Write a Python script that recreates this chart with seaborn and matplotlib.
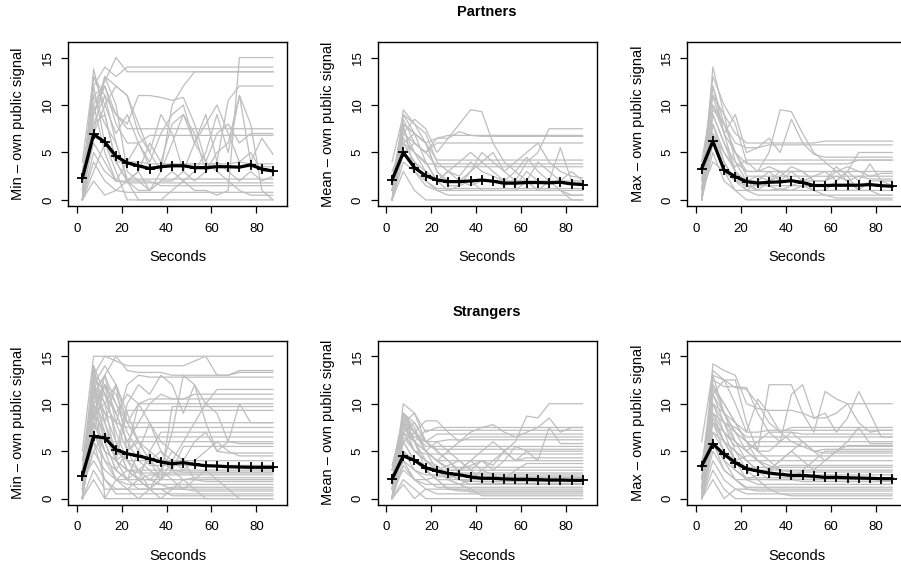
import numpy as np
import pandas as pd
import seaborn as sns
import matplotlib.pyplot as plt

sns.set_style('white')
plt.rcParams['font.family'] = ['Liberation Sans', 'DejaVu Sans']
plt.rcParams['text.color'] = 'black'
plt.rcParams['axes.labelcolor'] = 'black'
plt.rcParams['xtick.color'] = 'black'
plt.rcParams['ytick.color'] = 'black'

# time bins (seconds)
seconds = [2.5, 7.5, 12.5, 17.5, 22.5, 27.5, 32.5, 37.5, 42.5,
           47.5, 52.5, 57.5, 62.5, 67.5, 72.5, 77.5, 82.5, 87.5]

panel_names = ['p_min', 'p_mean', 'p_max', 's_min', 's_mean', 's_max']
ylabels = ['Min \u2013 own public signal', 'Mean \u2013 own public signal',
           'Max \u2013 own public signal'] * 2
group_titles = ['Partners', 'Strangers']

# average lines (black)
avg_p_min = [2.3, 6.9, 6.1, 4.6, 3.9, 3.6, 3.3, 3.5, 3.6, 3.6, 3.4, 3.4, 3.5, 3.5, 3.45, 3.7, 3.25, 3.05]
avg_p_mean = [2.1, 5.0, 3.4, 2.55, 2.1, 1.93, 1.93, 2.0, 2.1, 1.97, 1.77, 1.77, 1.83, 1.83, 1.8, 1.86, 1.69, 1.62]
avg_p_max = [3.3, 6.2, 3.15, 2.45, 1.93, 1.77, 1.86, 1.9, 2.03, 1.83, 1.52, 1.52, 1.55, 1.55, 1.55, 1.62, 1.5, 1.44]
avg_s_min = [2.4, 6.55, 6.4, 5.15, 4.73, 4.5, 4.2, 3.86, 3.68, 3.79, 3.6, 3.47, 3.43, 3.36, 3.33, 3.3, 3.3, 3.3]
avg_s_mean = [2.07, 4.5, 4.03, 3.26, 2.91, 2.66, 2.52, 2.28, 2.14, 2.14, 2.07, 2.03, 2.03, 2.0, 1.96, 1.96, 1.93, 1.93]
avg_s_max = [3.43, 5.78, 4.66, 3.79, 3.15, 2.91, 2.7, 2.56, 2.45, 2.45, 2.35, 2.24, 2.24, 2.2, 2.17, 2.14, 2.1, 2.1]

# individual lines (grey)
ind_p_min = [
    [0, 13.8, 9, 4, 2, 2, 2, 1.5, 1.5, 1.5, 1.5, 1.5, 1.5, 1.5, 1.5, 1.5, 1.5, 1.5],
    [2, 12, 14, 13, 14, 14, 14, 14, 14, 14, 14, 14, 14, 14, 14, 14, 14, 14],
    [0, 10, 12.5, 15, 13.5, 13.5, 13.5, 13.5, 13.5, 13.5, 13.5, 13.5, 13.5, 13.5, 13.5, 13.5, 13.5, 13.5],
    [3, 11, 12, 9, 8, 11, 11, 10.8, 10.5, 10.8, 8, 4, 3, 2, 1, 0.5, 0.5, 0.5],
    [0, 9, 13, 10, 3, 2, 1, 3, 10, 12, 13.5, 13.5, 13.5, 13.5, 13.5, 13.5, 13.5, 13.5],
    [1, 8, 11, 6, 2, 1, 1, 2, 3, 2, 1, 1, 0.5, 1, 15, 15, 15, 15],
    [0, 12, 6, 4, 2, 0, 0, 0, 0, 0, 0, 0, 0, 0, 0, 0, 0, 0],
    [4, 13, 11, 9, 7.5, 7.5, 7.5, 7.5, 7.5, 7.5, 7.5, 7.5, 7.5, 7.5, 7.5, 7.5, 7.5, 7.5],
    [0, 7, 10, 12, 11, 7, 5, 9, 7, 3, 6, 8, 10, 7, 4, 5, 3, 3],
    [2, 10, 5, 2, 2, 3, 6, 4, 8, 9, 7, 3, 5, 6, 11, 4, 6.5, 4.8],
    [0, 5, 3, 2, 4, 6, 4, 7, 9, 10, 6, 9, 4, 10.5, 12, 12, 12, 12],
    [0, 9, 12, 8, 6, 6, 6.8, 6.8, 6.8, 6.8, 6.8, 6.8, 6.8, 6.8, 6.8, 6.8, 6.8, 6.8],
    [1, 6, 4, 2, 1.8, 1.8, 1.8, 1.8, 1.8, 1.8, 1.8, 1.8, 1.8, 1.8, 1.8, 1.8, 1.8, 1.8],
    [0, 4, 2, 1, 2, 3, 1, 2, 2, 3, 2, 3, 4, 3, 2, 3, 2, 2.5],
    [3, 8, 9, 4, 4, 4, 3.8, 3.8, 3.8, 3.8, 3.8, 3.8, 3.8, 3.8, 4, 3.8, 3.8, 3.8],
    [0, 3, 6, 3, 0, 0, 0, 0, 1, 2, 3, 5, 9, 5, 11, 8, 1, 0],
    [2, 11, 8, 6, 2.2, 2.2, 2.2, 2.2, 2.2, 2.2, 2.2, 2.2, 2.2, 2.2, 2.2, 2.2, 2.2, 2.2],
    [0, 2, 0.5, 1, 0.8, 0.8, 0.8, 0.8, 0.8, 0.8, 0.8, 0.8, 0.8, 0.8, 0.8, 0.8, 0.8, 0.8],
    [1, 13, 10, 7, 9, 6, 3.5, 3.5, 3.5, 3.5, 3.5, 3.5, 3.5, 3.5, 3.5, 3.5, 3.5, 3.5],
    [0, 7, 13, 12, 11, 8, 5, 3, 6, 9, 6, 4, 7, 8, 6, 7, 7, 7],
]
ind_p_mean = [
    [0, 9.5, 8, 7, 4, 3, 2, 2, 2, 2, 2, 2, 2, 2, 2, 2, 2, 2],
    [2, 8.5, 6, 5, 6.5, 6.8, 6.8, 6.8, 6.8, 6.8, 6.8, 6.8, 6.8, 6.8, 6.8, 6.8, 6.8, 6.8],
    [1, 7, 8.5, 7.5, 5, 6.5, 8, 9.5, 9.3, 6, 4, 3, 2, 1, 2, 1, 0.5, 0.5],
    [0, 6, 7, 6, 3, 2, 2, 1.5, 2, 2, 1.5, 2, 4, 5, 7.5, 7.5, 7.5, 7.5],
    [4, 9, 7, 4, 2, 1, 1, 1, 1, 1, 1, 1, 1, 1, 1, 1, 1, 1],
    [0, 5, 4, 2, 1, 0.5, 0.5, 0.5, 0.5, 0.5, 0.5, 0.5, 0.5, 0.5, 0.5, 0.5, 0.5, 0.5],
    [1, 8, 7, 6, 6.5, 6.5, 7.2, 6.8, 6.7, 6.7, 6.7, 6.7, 6.7, 6.7, 6.7, 6.7, 6.7, 6.7],
    [0, 7.5, 5, 3, 2, 3, 4, 5, 4, 3, 2, 3, 4.5, 3, 2, 5.5, 2, 1.5],
    [3, 6, 4, 3, 2, 2, 2, 3, 4, 5, 3, 2, 2, 4, 3, 2, 3, 2],
    [0, 4, 3, 1.5, 1, 1, 1.5, 2, 1, 1, 1, 1, 2, 1, 1, 1, 0, 0],
    [2, 8, 7, 6, 4.2, 4.2, 4.2, 4.2, 4.2, 4.2, 4.2, 4.2, 4.2, 4.2, 4.2, 4.2, 4.2, 4.2],
    [0, 6.5, 5, 3.8, 3.8, 3.8, 3.8, 3.8, 3.8, 3.8, 3.8, 3.8, 3.8, 3.8, 3.8, 3.8, 3.8, 3.8],
    [1, 9, 8, 6, 3, 1.5, 1.5, 3, 5, 4, 3, 4, 5, 6, 4, 3, 2.5, 2.3],
    [0, 3, 1, 0, 0, 0, 0, 0, 0, 0, 0, 0, 0, 0, 0, 0, 0, 0],
    [0, 7, 6, 5, 3.5, 3.5, 3.5, 3.5, 3.5, 3.5, 3.5, 3.5, 3.5, 3.5, 3.5, 3.5, 3.5, 3.5],
    [2, 5, 6, 5, 6, 6, 6, 6, 6, 6, 6, 6, 6, 6, 6, 6, 6, 6],
    [0, 8, 3, 2, 1.2, 1.2, 1.2, 1.2, 1.2, 1.2, 1.2, 1.2, 1.2, 1.2, 1.2, 1.2, 1.2, 1.2],
    [1, 6, 5, 4, 2, 3, 2.5, 4, 3, 2.5, 2, 1.5, 3, 2, 1.8, 1.8, 1.8, 1.8],
]
ind_p_max = [
    [0, 14, 9, 7, 6, 6, 6, 6, 6, 6, 6, 6.2, 6.2, 6.2, 6.2, 6.2, 6.2, 6.2],
    [1, 12, 8, 5, 3, 3, 5, 9.5, 9.3, 7, 5, 4, 3, 2, 1, 1, 0.5, 0.5],
    [0, 10, 7, 9, 5, 5.5, 6.5, 5, 8.5, 6, 4.8, 4.5, 4.5, 4.5, 4.5, 4.5, 4.5, 4.5],
    [4, 11, 9, 4, 2, 1, 1, 1, 1, 1, 1, 1, 1, 1, 1, 1, 1, 1],
    [0, 9, 6, 3, 2, 2, 1.5, 1, 1.5, 2, 2.5, 3, 2, 3, 5, 5, 5, 5],
    [2, 13, 10, 8, 4, 3, 3.5, 3, 2, 2, 2, 2, 3, 3.5, 3, 2.5, 2.8, 2.8],
    [0, 8, 5, 3, 1, 0.5, 0.5, 0.5, 0.5, 0.5, 0.5, 0.5, 0.5, 0.5, 0.5, 0.5, 0.5, 0.5],
    [3, 7, 4, 2, 1.5, 1.5, 1.5, 1.5, 1.5, 1.5, 1.5, 1.5, 1.5, 1.5, 1.5, 1.5, 1.5, 1.5],
    [0, 6, 3, 1, 0, 0, 0, 0, 0, 0, 0, 0, 0, 0, 0, 0, 0, 0],
    [1, 10, 8, 6, 5.5, 5.5, 5.8, 5.8, 5.8, 5.8, 5.8, 5.8, 5.8, 5.8, 5.8, 5.8, 5.8, 5.8],
    [0, 5, 2, 1, 1, 2, 3, 2, 3, 2, 1, 1, 2, 3, 2, 3.8, 2, 1.5],
    [2, 9, 6, 4, 3, 3, 3, 3, 3, 3, 3, 3, 3, 3, 3, 3, 3, 3],
    [0, 12, 7, 5, 3.8, 3.8, 3.8, 3.8, 3.8, 3.8, 3.8, 3.8, 3.8, 3.8, 4.2, 4.2, 4.2, 4.2],
    [1, 4, 3, 2, 1, 1, 1, 1.2, 1, 1.5, 1, 0.5, 0.2, 0.2, 0.2, 0.2, 0.2, 0.2],
    [0, 8, 4, 2, 2, 2.5, 2, 2.5, 3.5, 3, 2, 2, 2.5, 2, 2.5, 2.2, 2.2, 2.2],
    [3, 11, 7, 3, 1.5, 1, 2, 3, 3, 3, 2, 2, 3.5, 2.5, 1, 2, 2, 2],
    [0, 7, 5, 3.5, 4.2, 4.2, 4.2, 4.2, 4.2, 4.2, 4.2, 4.2, 4.2, 4.2, 4.2, 4.2, 4.2, 4.2],
    [1, 9.5, 8, 5, 2.5, 2.5, 2.5, 2.5, 2.5, 2.5, 2.5, 2.5, 2.5, 2.5, 2.5, 2.5, 2.5, 2.5],
]
ind_s_min = [
    [5, 15, 15, 15, 15, 15, 15, 15, 15, 15, 15, 15, 15, 15, 15, 15, 15, 15],
    [0, 13, 15, 14.5, 14, 14, 14, 14, 14, 14, 14.5, 15, 13, 13, 13.5, 13.5, 13.5, 13.5],
    [2, 11, 13, 15, 13.5, 13.3, 13.3, 13.3, 13, 13, 13, 13, 13, 13, 13.3, 13.3, 13.3, 13.3],
    [0, 12, 10, 8, 12, 13, 12.8, 12.8, 12.8, 12.8, 12.8, 12.8, 12.8, 12.8, 12.8, 12.8, 12.8, 12.8],
    [3, 14, 8, 5, 10, 12, 11, 13, 12, 9, 12, 10, 11.5, 11.5, 11.5, 11.5, 11.5, 11.5],
    [0, 10, 12, 9, 6, 8, 10, 11, 10.5, 10.5, 11, 11, 11, 11, 11, 11, 11, 11],
    [1, 12, 6, 3, 5, 10, 10.5, 10.5, 10.5, 10.5, 10.5, 10.5, 10.5, 10.5, 10.5, 10.5, 10.5, 10.5],
    [0, 8, 13, 10, 8, 10, 10, 10, 10, 10, 10, 10, 10, 10, 10, 10, 10, 10],
    [2, 13, 11, 9, 6, 4, 3, 2, 9.7, 9.7, 9.7, 9.7, 9.7, 9.7, 9.7, 9.7, 9.7, 9.7],
    [0, 9, 5, 4, 9.3, 9.3, 9.3, 9.3, 9.3, 9.3, 9.3, 9.3, 9.3, 9.3, 9.3, 9.3, 9.3, 9.3],
    [4, 12, 14, 12, 8, 6, 4, 3, 7, 13, 12, 8, 5, 6, 10, 8, 8, 8],
    [0, 11, 9, 8, 7.5, 7.5, 7.5, 7.5, 7.5, 7.5, 7.5, 7.5, 7.5, 7.5, 7.5, 7.5, 7.5, 7.5],
    [1, 7, 12, 6, 3, 2, 5, 7, 7, 7, 7, 7, 7, 7, 7, 7, 7, 7],
    [0, 10, 8, 12, 5, 6.5, 6.5, 6.5, 6.5, 6.5, 6.5, 6.5, 6.5, 6.5, 6.5, 6.5, 6.5, 6.5],
    [3, 8, 6, 6, 6, 6, 6, 6, 6, 6, 6, 6, 6, 6, 6, 6, 6, 6],
    [0, 13, 10, 4, 2, 5, 8, 5, 3, 5.5, 5.5, 5.5, 5.5, 5.5, 5.5, 5.5, 5.5, 5.5],
    [2, 6, 4, 3, 2, 3, 4, 5, 4, 3, 4, 5, 6, 5, 4.5, 4.5, 4.5, 4.5],
    [0, 9, 7, 5, 4, 4, 4, 4, 4, 4, 4, 4, 4, 4, 4, 4, 4, 4],
    [1, 5, 3, 2, 3, 3, 3, 3, 3, 3, 3, 3, 3, 3, 3, 3, 3, 3],
    [0, 14, 0, 2, 2, 2, 2.5, 2.5, 2.5, 2.5, 2.5, 2.5, 2.5, 2.5, 2.5, 2.5, 2.5, 2.5],
    [2, 4, 2, 1, 1, 2, 2, 2, 2, 2, 2, 2, 2, 2, 2, 2, 2, 2],
    [0, 8, 5, 2, 1.5, 1.5, 1.5, 1.5, 1.5, 1.5, 1.5, 1.5, 1.5, 1.5, 1.5, 1.5, 1.5, 1.5],
    [0, 3, 1, 1, 1, 1, 1, 1, 1, 1, 1, 1, 1, 1, 1, 1, 1, 1],
    [1, 6, 2, 0.5, 0.5, 0.5, 0.5, 0.5, 0.5, 0.5, 0.5, 0.5, 0.5, 0.5, 0.5, 0.5, 0.5, 0.5],
    [0, 2, 0, 0, 0, 0, 0, 0, 0, 0, 0, 0, 0, 0, 0, 0, 0, 0],
    [0, 12, 9, 6, 3, 2, 2, 3, 2, 1, 2, 3, 2, 1, 0, 0, 0, 0],
    [3, 11, 7, 5, 4, 3, 2, 1.5, 1, 1, 0.8, 0.8, 0.8, 0.8, 0.8, 0.8, 0.8, 0.8],
    [0, 10, 11, 7, 4, 2, 1, 1, 1.2, 1.2, 1.2, 1.2, 1.2, 1.2, 1.2, 1.2, 1.2, 1.2],
    [1, 9, 12, 10, 7, 5, 3.5, 3.5, 3.5, 3.5, 3.5, 3.5, 3.5, 3.5, 3.5, 3.5, 3.5, 3.5],
    [0, 7, 5, 4, 5, 6, 5, 4, 3, 2, 2.2, 2.2, 2.2, 2.2, 2.2, 2.2, 2.2, 2.2],
    [0, 11, 13, 8, 5, 3, 1, 0, 1, 2, 1, 0, 0, 0, 0, 0, 0, 0],
    [2, 9, 10, 12, 9, 6, 4, 2, 3, 2.8, 2.8, 2.8, 2.8, 2.8, 2.8, 2.8, 2.8, 2.8],
    [0, 13, 12, 11, 8, 8, 8, 8, 8, 8, 8, 8, 8, 8, 8, 8, 8, 8],
    [1, 7, 4, 2, 1, 0, 1, 3, 5, 4, 2, 1.8, 1.8, 1.8, 1.8, 1.8, 1.8, 1.8],
    [0, 10, 6, 3, 2, 1, 1, 2, 4, 6, 8, 10, 9, 6, 5.8, 5.8, 5.8, 5.8],
    [3, 12, 8, 4, 3, 2, 1, 1, 0.3, 0.3, 0.3, 0.3, 0.3, 0.3, 0.3, 0.3, 0.3, 0.3],
    [0, 14, 11, 9, 11, 10, 8, 6, 5, 4, 6, 7, 5, 4.8, 4.8, 4.8, 4.8, 4.8],
    [1, 5, 7, 4, 3, 2.7, 2.7, 2.7, 2.7, 2.7, 2.7, 2.7, 2.7, 2.7, 2.7, 2.7, 2.7, 2.7],
]
ind_s_mean = [
    [0, 10, 9, 6, 5, 4, 3, 3.5, 4, 3.5, 5, 6, 8.7, 8.5, 10, 10, 10, 10],
    [2, 9, 7, 8.2, 8.2, 7, 6, 7, 7.5, 7.8, 7, 6.5, 7, 7.5, 8.5, 7, 7.5, 7.5],
    [1, 8, 9, 7, 7.5, 7.5, 7.5, 7.5, 7.5, 7.5, 7.5, 7.5, 7.5, 7.5, 7.5, 7.5, 7.5, 7.5],
    [0, 7.5, 6, 7.2, 7.2, 7.2, 7.2, 7.2, 7.2, 7.2, 7.2, 7.2, 7.2, 7.2, 7.2, 7.2, 7.2, 7.2],
    [3, 9, 8, 6, 6.8, 6.8, 6.8, 6.8, 6.8, 6.8, 6.8, 6.8, 6.8, 6.8, 6.8, 6.8, 6.8, 6.8],
    [0, 8.5, 7, 5, 4, 5, 6, 6.5, 6.5, 6.5, 6.5, 6.5, 6.5, 6.5, 6.5, 6.5, 6.5, 6.5],
    [1, 7, 5, 4, 3, 3.5, 4, 3, 4, 3, 4, 5.5, 5, 4, 7.5, 5.8, 5.8, 5.8],
    [2, 6, 7, 5.5, 5.5, 5.5, 5.5, 5.5, 5.5, 5.5, 5.5, 5.5, 5.5, 5.5, 5.5, 5.5, 5.5, 5.5],
    [0, 9, 6, 4, 3, 2, 3, 4, 3, 4, 5, 4, 5, 5, 5, 5, 5, 5],
    [3, 8, 5, 4.7, 4.7, 4.7, 4.7, 4.7, 4.7, 4.7, 4.7, 4.7, 4.7, 4.7, 4.7, 4.7, 4.7, 4.7],
    [0, 6, 4, 3, 2, 2, 1.5, 2, 3, 2.5, 2, 3, 3.7, 3.7, 3.7, 3.7, 3.7, 3.7],
    [1, 7, 6, 5, 4, 3.3, 3.3, 3.3, 3.3, 3.3, 3.3, 3.3, 3.3, 3.3, 3.3, 3.3, 3.3, 3.3],
    [0, 5, 4, 3, 3, 3, 3, 3, 3, 3, 3, 3, 3, 3, 3, 3, 3, 3],
    [2, 4, 3, 2.5, 2.5, 2.5, 2.5, 2.5, 2.5, 2.5, 2.5, 2.5, 2.5, 2.5, 2.5, 2.5, 2.5, 2.5],
    [0, 6.5, 5, 4, 3, 2, 2, 2, 2, 2, 2, 2, 2, 2, 2, 2, 2, 2],
    [1, 3, 2, 1.5, 1.5, 1.5, 1.5, 1.5, 1.5, 1.5, 1.5, 1.5, 1.5, 1.5, 1.5, 1.5, 1.5, 1.5],
    [0, 1.5, 0, 1, 1, 1, 1, 1, 1, 1, 1, 1, 1, 1, 1, 1, 1, 1],
    [0, 4, 2, 1, 0.5, 0.5, 0.5, 0.5, 0.5, 0.5, 0.5, 0.5, 0.5, 0.5, 0.5, 0.5, 0.5, 0.5],
    [0, 2, 1, 0, 0, 0, 0, 0, 0, 0, 0, 0, 0, 0, 0, 0, 0, 0],
    [3.5, 8, 6, 4, 3.5, 2.5, 2, 1.8, 1.8, 1.8, 1.8, 1.8, 1.8, 1.8, 1.8, 1.8, 1.8, 1.8],
    [0, 7, 8, 6, 5, 4, 2.7, 2.7, 2.7, 2.7, 2.7, 2.7, 2.7, 2.7, 2.7, 2.7, 2.7, 2.7],
    [1, 5, 3, 2, 1.2, 1.2, 1.2, 1.2, 1.2, 1.2, 1.2, 1.2, 1.2, 1.2, 1.2, 1.2, 1.2, 1.2],
    [0, 7.8, 6, 5, 6, 5, 4, 3, 2, 2.2, 2.2, 2.2, 2.2, 2.2, 2.2, 2.2, 2.2, 2.2],
    [2, 6, 4, 3, 2, 1, 0.8, 0.8, 0.8, 0.8, 0.8, 0.8, 0.8, 0.8, 0.8, 0.8, 0.8, 0.8],
    [0, 8, 7, 6, 5.2, 5.2, 5.2, 5.2, 5.2, 5.2, 5.2, 5.2, 5.2, 5.2, 5.2, 5.2, 5.2, 5.2],
    [1, 9, 7, 5, 4, 4, 4, 4, 4, 4, 4, 4, 4, 4, 4, 4, 4, 4],
    [0, 9, 7.5, 5, 3, 2, 1.5, 1, 0.3, 0.3, 0.3, 0.3, 0.3, 0.3, 0.3, 0.3, 0.3, 0.3],
    [2, 7, 5, 4, 3, 2.5, 2, 1.5, 1.6, 1.6, 1.6, 1.6, 1.6, 1.6, 1.6, 1.6, 1.6, 1.6],
    [0, 6, 7, 5, 4, 3, 3, 4, 5, 6, 5, 4, 4.3, 4.3, 4.3, 4.3, 4.3, 4.3],
    [1, 8.5, 6, 3, 2, 1, 1, 0.7, 0.7, 0.7, 0.7, 0.7, 0.7, 0.7, 0.7, 0.7, 0.7, 0.7],
    [0, 3.5, 2, 2, 2.3, 2.3, 2.3, 2.3, 2.3, 2.3, 2.3, 2.3, 2.3, 2.3, 2.3, 2.3, 2.3, 2.3],
    [3, 7.5, 6.5, 6, 6, 6.2, 6.2, 6.2, 6.2, 6.2, 6.2, 6.2, 6.2, 6.2, 6.2, 6.2, 6.2, 6.2],
]
ind_s_max = [
    [0, 14.2, 13.5, 13, 10, 9.5, 9.3, 9.3, 9.3, 9, 8.5, 8.5, 9, 10, 10, 10, 10, 10],
    [6, 13.5, 12.5, 12.5, 8, 5, 12, 12, 12, 9, 7, 11.3, 10.5, 10, 8, 7, 7.2, 7.2],
    [0, 12.5, 11.8, 11.8, 11.7, 9, 7, 6, 11, 12, 8.5, 9, 7, 8.5, 11.3, 9, 6.5, 6.5],
    [1, 11, 12.5, 10, 7, 10.5, 9, 7, 7.5, 7.5, 7.5, 7.5, 7.5, 7.5, 7.5, 7.5, 7.5, 7.5],
    [0, 10, 9, 8, 7, 7, 7.2, 7.2, 7.2, 7.2, 7.2, 7.2, 7.2, 7.2, 7.2, 7.2, 7.2, 7.2],
    [3, 12, 9, 7, 5, 6, 7, 7, 7, 6.8, 6.8, 6.8, 6.8, 6.8, 6.8, 6.8, 6.8, 6.8],
    [0, 9, 8, 6, 5, 4, 3, 4, 5, 6, 5, 4, 5, 6, 7.5, 5.8, 5.8, 5.8],
    [2, 11, 8, 7, 6, 6, 6, 6, 6, 6, 6, 6, 6, 6, 6, 6, 6, 6],
    [0, 8, 7, 5.5, 5.5, 5.5, 5.5, 5.5, 5.5, 5.5, 5.5, 5.5, 5.5, 5.5, 5.5, 5.5, 5.5, 5.5],
    [1, 13, 9, 6, 4, 3, 2, 2, 2, 3, 4, 5, 5, 5, 5, 5, 5, 5],
    [0, 7, 5, 4, 4.5, 4.5, 4.5, 4.5, 4.5, 4.5, 4.5, 4.5, 4.5, 4.5, 4.5, 4.5, 4.5, 4.5],
    [2, 9, 6, 4, 3, 3, 3, 3, 3, 3, 3, 3, 3, 3, 3, 3, 3, 3],
    [0, 6, 4, 3, 2, 2.5, 3, 3.5, 3.5, 3.5, 3.5, 3.5, 3.5, 3.5, 3.5, 3.5, 3.5, 3.5],
    [0, 5, 3, 2, 2, 2, 2, 2, 2, 2, 2, 2, 2, 2, 2, 2, 2, 2],
    [1, 10, 7, 4, 2, 1.5, 1.5, 1.5, 1.5, 1.5, 1.5, 1.5, 1.5, 1.5, 1.5, 1.5, 1.5, 1.5],
    [0, 2, 0, 1, 1, 1, 1, 1, 1, 1, 1, 1, 1, 1, 1, 1, 1, 1],
    [0, 4, 2, 1, 0.5, 0.5, 0.5, 0.5, 0.5, 0.5, 0.5, 0.5, 0.5, 0.5, 0.5, 0.5, 0.5, 0.5],
    [0, 3, 1, 0, 0, 0, 0, 0, 0, 0, 0, 0, 0, 0, 0, 0, 0, 0],
    [4, 8, 6, 5, 4, 4, 4, 4, 4, 4, 4, 4, 4, 4, 4, 4, 4, 4],
    [0, 7, 6, 5, 4, 3, 2.5, 2.5, 2.5, 2.5, 2.5, 2.5, 2.5, 2.5, 2.5, 2.5, 2.5, 2.5],
    [2, 12, 10, 8, 6, 5, 4, 3, 2.8, 2.8, 2.8, 2.8, 2.8, 2.8, 2.8, 2.8, 2.8, 2.8],
    [0, 6, 3, 2, 1.2, 1.2, 1.2, 1.2, 1.2, 1.2, 1.2, 1.2, 1.2, 1.2, 1.2, 1.2, 1.2, 1.2],
    [1, 11, 9, 7, 6, 5, 5, 6, 7, 6, 5, 5.2, 5.2, 5.2, 5.2, 5.2, 5.2, 5.2],
    [0, 9, 8, 7.5, 6.5, 6.5, 6.5, 6.5, 6.5, 6.5, 6.5, 6.5, 6.5, 6.5, 6.5, 6.5, 6.5, 6.5],
    [3, 8, 5, 3, 2.2, 2.2, 2.2, 2.2, 2.2, 2.2, 2.2, 2.2, 2.2, 2.2, 2.2, 2.2, 2.2, 2.2],
    [0, 10, 8, 5, 3, 2, 1, 0.5, 0.3, 0.3, 0.3, 0.3, 0.3, 0.3, 0.3, 0.3, 0.3, 0.3],
    [2, 9, 7, 6, 5, 4, 3.5, 3, 2, 1.8, 1.8, 1.8, 1.8, 1.8, 1.8, 1.8, 1.8, 1.8],
    [0, 11.5, 10, 8, 6, 4, 3, 4, 5, 4, 3, 4, 5, 5.6, 5.6, 5.6, 5.6, 5.6],
    [1, 6, 4, 2, 1, 0.8, 0.8, 0.8, 0.8, 0.8, 0.8, 0.8, 0.8, 0.8, 0.8, 0.8, 0.8, 0.8],
    [0, 8.5, 6, 4, 3.3, 3.3, 3.3, 3.3, 3.3, 3.3, 3.3, 3.3, 3.3, 3.3, 3.3, 3.3, 3.3, 3.3],
    [3, 13, 12.5, 11.7, 11.5, 10, 8, 7, 6, 5.5, 5, 4.8, 4.8, 4.8, 4.8, 4.8, 4.8, 4.8],
]

averages = [avg_p_min, avg_p_mean, avg_p_max, avg_s_min, avg_s_mean, avg_s_max]
individuals = [ind_p_min, ind_p_mean, ind_p_max, ind_s_min, ind_s_mean, ind_s_max]

# long tables for seaborn
rows = []
for name, lines in zip(panel_names, individuals):
    for k, vals in enumerate(lines):
        for s, v in zip(seconds, vals):
            rows.append((name, k, s, v))
ind_df = pd.DataFrame(rows, columns=['panel', 'subject', 'seconds', 'value'])
avg_df = pd.DataFrame([(name, s, v) for name, vals in zip(panel_names, averages)
                       for s, v in zip(seconds, vals)],
                      columns=['panel', 'seconds', 'value'])

fig = plt.figure(figsize=(9.01, 5.65), dpi=100)
W, H = 901, 565
col_left = [68, 377.7, 687.3]
row_top = [42, 340.7]
box_w, box_h = 219, 164

for i, name in enumerate(panel_names):
    r, c = divmod(i, 3)
    ax = fig.add_axes([col_left[c] / W, 1 - (row_top[r] + box_h) / H, box_w / W, box_h / H])
    sns.lineplot(data=ind_df[ind_df.panel == name], x='seconds', y='value',
                 units='subject', estimator=None, color='#BEBEBE', lw=0.9, ax=ax)
    sns.lineplot(data=avg_df[avg_df.panel == name], x='seconds', y='value',
                 color='black', lw=2.3, marker='+', markersize=7, mew=1.3,
                 mec='black', ax=ax)
    ax.set_xlim(-3.9, 93.7)
    ax.set_ylim(-0.64, 16.64)
    ax.set_xticks([0, 20, 40, 60, 80])
    ax.set_yticks([0, 5, 10, 15])
    for sp in ax.spines.values():
        sp.set_visible(True)
        sp.set_color('black')
        sp.set_linewidth(1.0)
    ax.tick_params(axis='both', direction='out', length=5, width=0.9,
                   color='black', labelcolor='black', labelsize=9.5, pad=7,
                   bottom=True, left=True)
    ax.tick_params(axis='y', labelrotation=90, pad=5)
    for lab in ax.get_yticklabels():
        lab.set_va('center')
    ax.set_xlabel('Seconds', fontsize=10.5, labelpad=11)
    ax.set_ylabel(ylabels[i], fontsize=10.5, labelpad=12)

fig.text(487 / W, 1 - 12 / H, group_titles[0], ha='center', va='center',
         fontsize=10.5, fontweight='bold')
fig.text(487 / W, 1 - 311.7 / H, group_titles[1], ha='center', va='center',
         fontsize=10.5, fontweight='bold')

fig.savefig('out.png', dpi=100)
